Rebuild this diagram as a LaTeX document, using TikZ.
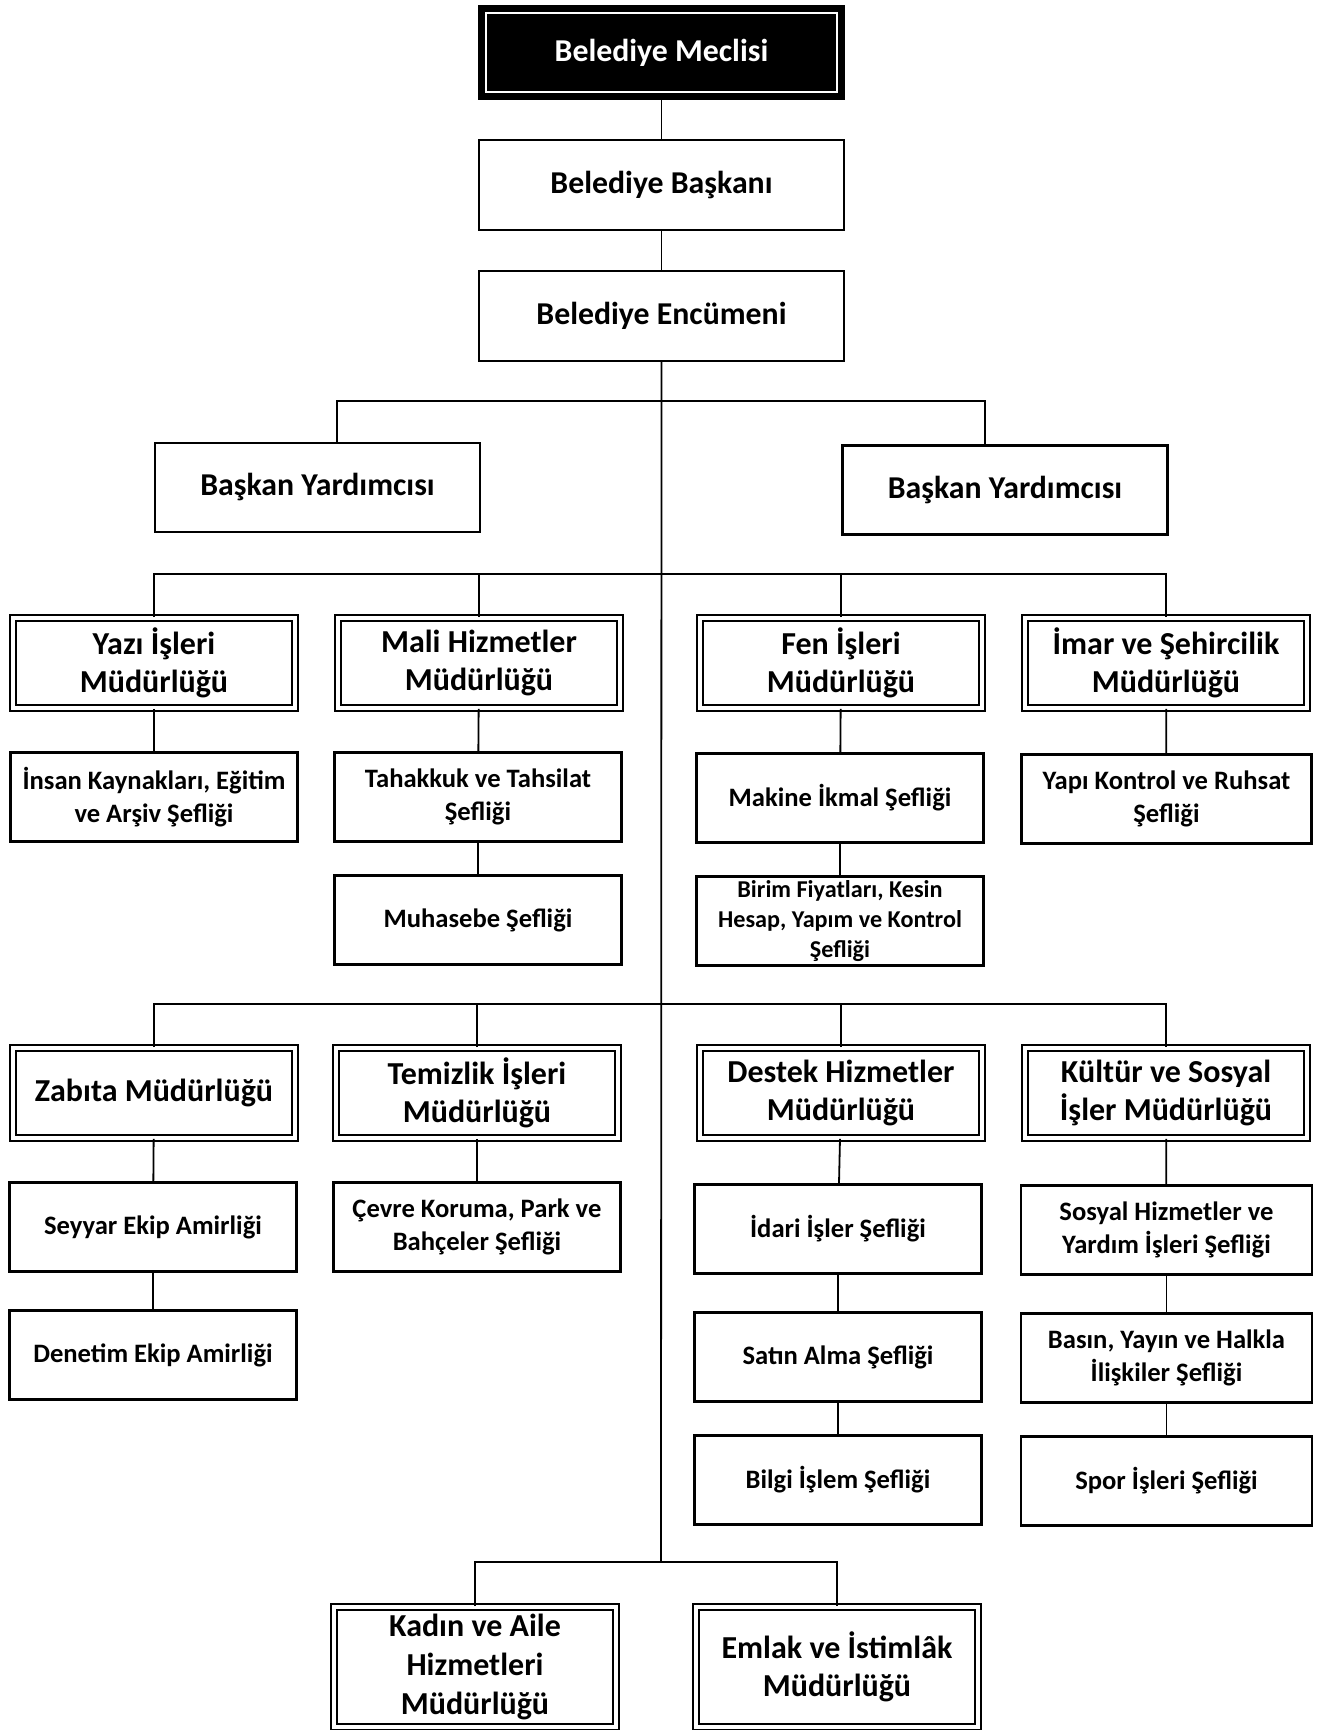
\documentclass[tikz,border=0pt]{standalone}
\usepackage{fontspec}
\setmainfont{Carlito}
\usetikzlibrary{calc}
\begin{document}
\begin{tikzpicture}[x=0.5pt,y=-0.5pt,
  base/.style={draw=black, line width=1.1pt, fill=white, align=center, inner sep=2pt,
    font=\fontsize{15.9}{19}\selectfont\bfseries},
  topbox/.style={base, minimum width=182.5pt, minimum height=45pt},
  vicebox/.style={base, minimum width=162.5pt, minimum height=44.5pt},
  dirbox/.style={base, double=white, double distance=2pt, line width=0.9pt,
    minimum width=141pt, minimum height=45pt, font=\fontsize{16}{19.3}\selectfont\bfseries},
  subbox/.style={base, minimum width=143.5pt, minimum height=44.5pt,
    font=\fontsize{13.3}{16.2}\selectfont\bfseries},
  link/.style={line width=0.9pt}
]
\useasboundingbox[fill=white] (0,0) rectangle (1321,1730);

% top levels
\node[topbox, fill=black, text=white, minimum height=46.5pt] (meclis) at (661.5,52.5) {Belediye Meclisi};
\draw[white, line width=0.9pt] ($(meclis.north west)+(8,8)$) rectangle ($(meclis.south east)+(-8,-8)$);
\node[topbox] (baskan) at (661.5,185) {Belediye Başkanı};
\node[topbox] (encumen) at (661.5,316) {Belediye Encümeni};
\node[vicebox] (byl) at (317.5,487.5) {Başkan Yardımcısı};
\node[vicebox] (byr) at (1005,490) {Başkan Yardımcısı};

% directors row 1
\node[dirbox] (yazi) at (154,663) {Yazı İşleri\\Müdürlüğü};
\node[dirbox] (mali) at (479,663) {Mali Hizmetler\\Müdürlüğü};
\node[dirbox] (fen) at (841,663) {Fen İşleri\\Müdürlüğü};
\node[dirbox] (imar) at (1166,663) {İmar ve Şehircilik\\Müdürlüğü};

% sub row 1
\node[subbox] (insan) at (154,797) {İnsan Kaynakları, Eğitim\\ve Arşiv Şefliği};
\node[subbox] (tahakkuk) at (478,797) {Tahakkuk ve Tahsilat\\Şefliği};
\node[subbox] (muhasebe) at (478,920) {Muhasebe Şefliği};
\node[subbox] (makine) at (840,798) {Makine İkmal Şefliği};
\node[subbox, font=\fontsize{12.1}{14.8}\selectfont\bfseries] (birim) at (840,921) {Birim Fiyatları, Kesin\\Hesap, Yapım ve Kontrol\\Şefliği};
\node[subbox, minimum width=145pt] (yapi) at (1166.5,799) {Yapı Kontrol ve Ruhsat\\Şefliği};

% directors row 2
\node[dirbox] (zabita) at (154,1093) {Zabıta Müdürlüğü};
\node[dirbox] (temizlik) at (477,1093) {Temizlik İşleri\\Müdürlüğü};
\node[dirbox] (destek) at (841,1093) {Destek Hizmetler\\Müdürlüğü};
\node[dirbox] (kultur) at (1166,1093) {Kültür ve Sosyal\\İşler Müdürlüğü};

% sub row 2
\node[subbox] (seyyar) at (153,1227) {Seyyar Ekip Amirliği};
\node[subbox] (denetim) at (153,1355) {Denetim Ekip Amirliği};
\node[subbox] (cevre) at (477,1227) {Çevre Koruma, Park ve\\Bahçeler Şefliği};
\node[subbox] (idari) at (838,1229) {İdari İşler Şefliği};
\node[subbox] (satin) at (838,1357) {Satın Alma Şefliği};
\node[subbox] (bilgi) at (838,1480) {Bilgi İşlem Şefliği};
\node[subbox, minimum width=145.5pt] (sosyal) at (1166.5,1230) {Sosyal Hizmetler ve\\Yardım İşleri Şefliği};
\node[subbox, minimum width=145.5pt] (basin) at (1166.5,1358) {Basın, Yayın ve Halkla\\İlişkiler Şefliği};
\node[subbox, minimum width=145.5pt] (spor) at (1166.5,1481) {Spor İşleri Şefliği};

% bottom directors
\node[dirbox, minimum height=60pt] (kadin) at (475,1667) {Kadın ve Aile\\Hizmetleri\\Müdürlüğü};
\node[dirbox, minimum height=60pt] (emlak) at (837,1667) {Emlak ve İstimlâk\\Müdürlüğü};

% coordinates for the trunk and bars
\coordinate (t1) at (661,401);
\coordinate (t2) at (661,574);
\coordinate (t3) at (661,1004);
\coordinate (t4) at (661,1562);

% connectors
\draw[link] (meclis) -- (baskan);
\draw[link] (baskan) -- (encumen);
\draw[link] (encumen.south) -- (t4);
\draw[link] (byl.north -| 337,0) |- (t1) -| (byr.north -| 985,0);
\draw[link] (yazi.north) |- (t2) -| (imar.north);
\draw[link] (mali.north) -- (mali.north |- t2);
\draw[link] (fen.north) -- (fen.north |- t2);
\draw[link] (zabita.north) |- (t3) -| (kultur.north);
\draw[link] (temizlik.north) -- (temizlik.north |- t3);
\draw[link] (destek.north) -- (destek.north |- t3);
\draw[link] (kadin.north) |- (t4) -| (emlak.north);

\draw[link] (yazi) -- (insan);
\draw[link] (mali) -- (tahakkuk);
\draw[link] (tahakkuk) -- (muhasebe);
\draw[link] (fen) -- (makine);
\draw[link] (makine) -- (birim);
\draw[link] (imar) -- (yapi);
\draw[link] (zabita) -- (seyyar);
\draw[link] (seyyar) -- (denetim);
\draw[link] (temizlik) -- (cevre);
\draw[link] (destek) -- (idari);
\draw[link] (idari) -- (satin);
\draw[link] (satin) -- (bilgi);
\draw[link] (kultur) -- (sosyal);
\draw[link] (sosyal) -- (basin);
\draw[link] (basin) -- (spor);
\end{tikzpicture}
\end{document}
